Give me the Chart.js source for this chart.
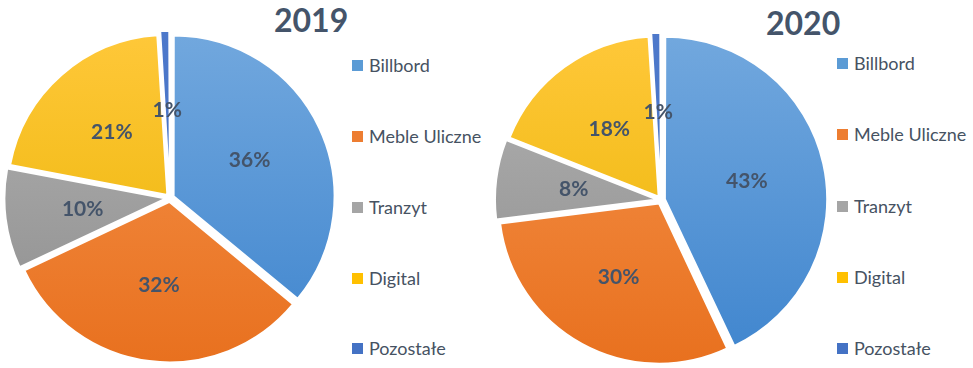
<!DOCTYPE html>
<html>
<head>
<meta charset="utf-8">
<script src="https://cdn.jsdelivr.net/npm/chart.js@4"></script>
<style>
  body { margin: 0; background: #fff; }
  #wrap { position: relative; width: 973px; height: 368px; overflow: hidden; font-family: Lato, "Open Sans", sans-serif; }
  canvas { position: absolute; }
  .title { position: absolute; font-size: 32px; font-weight: bold; color: #44546A; line-height: 1; }
  .legend { position: absolute; }
  .item { position: absolute; left: 0; white-space: nowrap; font-size: 18px; color: #465262; line-height: 1; transform: translateY(-50%); }
  .item i { display: inline-block; width: 11px; height: 11px; margin-right: 6px; vertical-align: 1px; }
</style>
</head>
<body>
<div id="wrap">
  <div class="title" style="left:274px; top:4px;">2019</div>
  <div class="title" style="left:766px; top:7px;">2020</div>
  <canvas id="pie2019" width="332" height="332" style="left:4px; top:32px;"></canvas>
  <canvas id="pie2020" width="332" height="332" style="left:495px; top:34px;"></canvas>
  <div class="legend" id="leg2019" style="left:352px; top:0;"></div>
  <div class="legend" id="leg2020" style="left:837px; top:0;"></div>
</div>
<script>
/* DATA */
let labels = ["Billbord", "Meble Uliczne", "Tranzyt", "Digital", "Pozostałe"];
let values2019 = [36, 32, 10, 21, 1];
let values2020 = [43, 30, 8, 18, 1];

/* COLORS (top / bottom of gradient) */
let colTop = ["#72A8DE", "#F5934C", "#B3B3B3", "#FFC83A", "#4E79CB"];
let colBot = ["#3F85CE", "#E8701E", "#8C8C8C", "#E9B300", "#3E6BBE"];
let legendCol = ["#5B9BD5", "#ED7D31", "#A5A5A5", "#FFC000", "#4472C4"];

function fill(ctx) {
    let area = ctx.chart.chartArea;
    let i = ctx.dataIndex;
    if (!area) return legendCol[i];
    let g = ctx.chart.ctx.createLinearGradient(0, area.top, 0, area.bottom);
    g.addColorStop(0, colTop[i]);
    g.addColorStop(1, colBot[i]);
    return g;
}

/* LABELS ON SLICES */
let pctLabels = {
    id: "pctLabels",
    afterDatasetsDraw(chart) {
        let c = chart.ctx;
        let meta = chart.getDatasetMeta(0);
        c.save();
        c.font = "bold 21px Lato, 'Open Sans', sans-serif";
        c.fillStyle = "#44546A";
        c.textAlign = "center";
        c.textBaseline = "middle";
        meta.data.forEach((arc, i) => {
            let p = arc.tooltipPosition();
            c.fillText(chart.data.datasets[0].data[i] + "%", p.x, p.y);
        });
        c.restore();
    }
};

function makePie(id, values) {
    new Chart(document.getElementById(id), {
        type: "pie",
        data: {
            labels: labels,
            datasets: [{
                data: values,
                backgroundColor: fill,
                borderColor: "#fff",
                borderWidth: 2,
                offset: 16
            }]
        },
        options: {
            responsive: false,
            animation: false,
            radius: 160,
            layout: { padding: 0 },
            plugins: { legend: { display: false }, tooltip: { enabled: false } }
        },
        plugins: [pctLabels]
    });
}

makePie("pie2019", values2019);
makePie("pie2020", values2020);

/* LEGENDS */
function makeLegend(id, ys) {
    let box = document.getElementById(id);
    labels.forEach((name, i) => {
        let d = document.createElement("div");
        d.className = "item";
        d.style.top = ys[i] + "px";
        d.innerHTML = '<i style="background:' + legendCol[i] + '"></i>' + name;
        box.appendChild(d);
    });
}
makeLegend("leg2019", [65, 136, 207, 278, 348]);
makeLegend("leg2020", [63, 134, 206, 277, 348]);
</script>
</body>
</html>
